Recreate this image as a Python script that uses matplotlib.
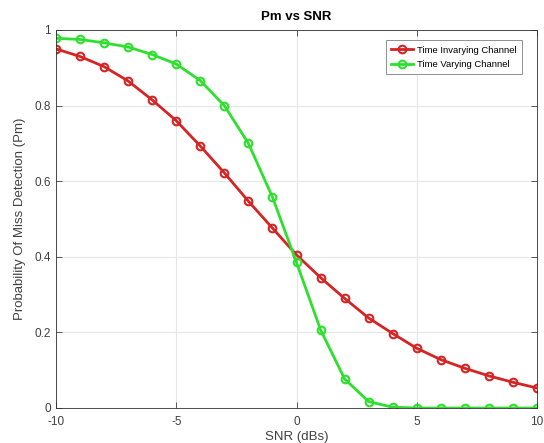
import matplotlib
matplotlib.use("Agg")
import matplotlib.pyplot as plt
from matplotlib.ticker import FuncFormatter

# dados
snr = list(range(-10, 11))
pm_invariante = [0.950, 0.930, 0.903, 0.865, 0.815, 0.760, 0.693, 0.622, 0.547, 0.476,
                 0.405, 0.345, 0.290, 0.238, 0.197, 0.158, 0.128, 0.105, 0.085, 0.068, 0.053]
pm_variante = [0.978, 0.975, 0.966, 0.955, 0.935, 0.910, 0.866, 0.800, 0.700, 0.558,
               0.385, 0.207, 0.077, 0.017, 0.002, 0.0, 0.0, 0.0, 0.0, 0.0, 0.0]

plt.rcParams['font.family'] = ['Liberation Sans', 'DejaVu Sans']
plt.rcParams['axes.unicode_minus'] = False

fig = plt.figure(figsize=(5.44, 4.43), dpi=100)
ax = fig.add_axes([56 / 544, 35 / 443, 481 / 544, 378 / 443])

ax.plot(snr, pm_invariante, '-o', color='#d42424', linewidth=2, markersize=5.5,
        markerfacecolor='none', markeredgewidth=1.5, label='Time Invarying Channel')
ax.plot(snr, pm_variante, '-o', color='#2ee02e', linewidth=2, markersize=5.5,
        markerfacecolor='none', markeredgewidth=1.5, label='Time Varying Channel')

ax.set_xlim(-10, 10)
ax.set_ylim(0, 1)
ax.set_xticks([-10, -5, 0, 5, 10])
ax.set_yticks([0, 0.2, 0.4, 0.6, 0.8, 1])
ax.yaxis.set_major_formatter(FuncFormatter(lambda v, p: f"{v:g}"))
ax.grid(True, color='#e6e6e6', linewidth=0.8)
ax.set_axisbelow(True)
ax.tick_params(direction='in', top=True, right=True, labelsize=8.5, colors='#404040',
               length=4, width=0.6)
ax.tick_params(axis='x', pad=6)
for s in ax.spines.values():
    s.set_color('#303030')
    s.set_linewidth(0.6)

ax.set_title('Pm vs SNR', fontsize=9.5, fontweight='bold', pad=7)
ax.set_xlabel('SNR (dBs)', fontsize=9.5, color='#404040', labelpad=2)
ax.set_ylabel('Probability Of Miss Detection (Pm)', fontsize=9.5, color='#404040', labelpad=6)

leg = ax.legend(loc='upper right', bbox_to_anchor=(0.979, 0.985), fontsize=6.8,
                fancybox=False, framealpha=1, edgecolor='#909090', borderpad=0.55,
                handlelength=2.3, handletextpad=0.5, labelspacing=0.6)
leg.get_frame().set_linewidth(0.7)

fig.savefig('out.png', dpi=100)
